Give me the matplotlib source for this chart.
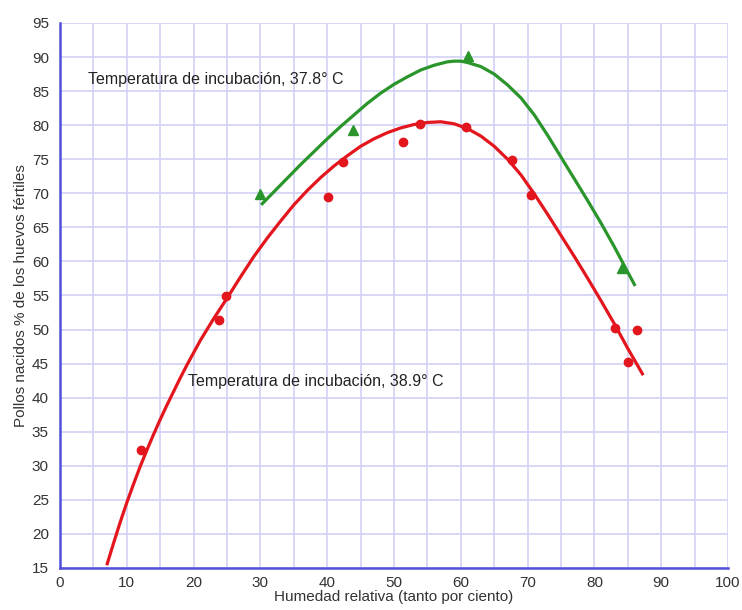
import matplotlib
matplotlib.use("Agg")
import matplotlib.pyplot as plt
from matplotlib.ticker import MultipleLocator

plt.rcParams['font.family'] = ['Liberation Sans', 'DejaVu Sans']

# measured points, 38.9 C (red circles)
hum_389 = [12.1, 23.8, 24.9, 40.1, 42.4, 51.3, 53.9, 60.8, 67.7, 70.5, 83.1, 85.0, 86.4]
pct_389 = [32.3, 51.4, 54.9, 69.4, 74.6, 77.5, 80.2, 79.7, 74.9, 69.7, 50.2, 45.3, 50.0]

# measured points, 37.8 C (green triangles)
hum_378 = [29.9, 43.9, 61.1, 84.1]
pct_378 = [69.9, 79.3, 90.1, 59.1]

# fitted curves
curve_389_x = [7, 8, 9, 10, 11, 12, 13, 14, 15, 16, 17, 18, 19, 20, 21, 22, 23, 24, 25,
               27, 29, 31, 33, 35, 37, 39, 41, 43, 45, 47, 49, 51, 53, 55, 57,
               59, 61, 63, 65, 67, 69, 71, 73, 75, 77, 79, 81, 83, 85, 87.3]
curve_389_y = [15.4, 18.6, 21.7, 24.6, 27.3, 29.9, 32.3, 34.6, 36.8, 38.9, 40.9, 42.9,
               44.8, 46.6, 48.4, 50.0, 51.6, 53.1, 54.6,
               57.7, 60.7, 63.4, 65.9, 68.3, 70.4, 72.3, 74.0, 75.5, 76.9, 78.0, 78.9,
               79.6, 80.1, 80.4, 80.5,
               80.2, 79.5, 78.4, 76.9, 75.0, 72.7, 69.9, 66.9, 63.8, 60.7, 57.5, 54.2,
               50.8, 47.2, 43.3]

curve_378_x = [30.1, 32, 34, 36, 38, 40, 42, 44, 46, 48, 50, 52, 54, 56, 58, 59, 60,
               61, 63, 65, 67, 69, 71, 73, 75, 77, 79, 81, 83, 85, 86.1]
curve_378_y = [68.3, 70.2, 72.2, 74.2, 76.1, 78.0, 79.8, 81.5, 83.2, 84.7, 86.0, 87.1,
               88.1, 88.8, 89.3, 89.4, 89.4,
               89.2, 88.6, 87.5, 85.9, 84.0, 81.5, 78.5, 75.3, 72.1, 68.9, 65.6, 62.1,
               58.4, 56.4]

red = '#e3161e'
green = '#2a952a'
grid_col = '#d2d2f6'
axis_col = '#5050d8'

fig = plt.figure(figsize=(7.42, 6.10), dpi=100)
ax = fig.add_axes([0.0809, 0.0689, 0.9003, 0.8934])

ax.plot(curve_389_x, curve_389_y, color=red, lw=2.3, solid_capstyle='butt',
        solid_joinstyle='round', zorder=3)
ax.plot(curve_378_x, curve_378_y, color=green, lw=2.3, solid_capstyle='butt',
        solid_joinstyle='round', zorder=3)
ax.plot(hum_389, pct_389, 'o', color=red, ms=6, zorder=4)
ax.plot(hum_378, pct_378, '^', color=green, ms=6.5, zorder=4)

ax.text(4.2, 86.7, 'Temperatura de incubación, 37.8° C', fontsize=11.5,
        color='#222222', va='center', ha='left')
ax.text(19.2, 42.3, 'Temperatura de incubación, 38.9° C', fontsize=11.5,
        color='#222222', va='center', ha='left')

ax.set_xlim(0, 100)
ax.set_ylim(15, 95)
ax.xaxis.set_major_locator(MultipleLocator(10))
ax.xaxis.set_minor_locator(MultipleLocator(5))
ax.yaxis.set_major_locator(MultipleLocator(5))
ax.grid(True, which='both', color=grid_col, lw=1.2, zorder=0)
ax.set_axisbelow(True)

ax.tick_params(which='both', length=0, labelsize=11, colors='#333333')
ax.tick_params(axis='y', pad=8)
ax.tick_params(axis='x', pad=6)

for side in ['top', 'right']:
    ax.spines[side].set_visible(False)
for side in ['left', 'bottom']:
    ax.spines[side].set_color(axis_col)
    ax.spines[side].set_linewidth(1.8)

ax.set_xlabel('Humedad relativa (tanto por ciento)', fontsize=11, color='#333333', labelpad=0)
ax.set_ylabel('Pollos nacidos % de los huevos fértiles', fontsize=11, color='#333333', labelpad=3)

fig.savefig('out.png', dpi=100, facecolor='white')
